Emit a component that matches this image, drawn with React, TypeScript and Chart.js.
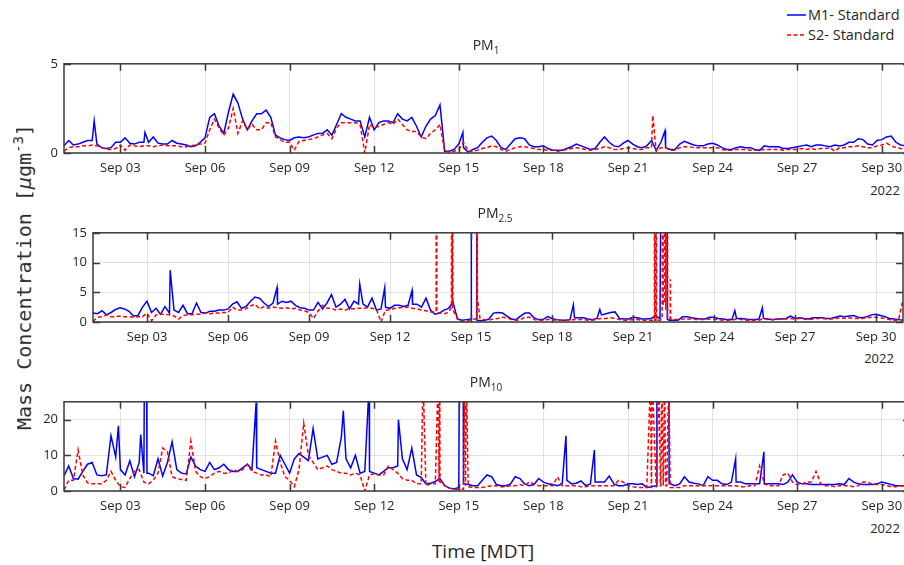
import React, { useEffect, useRef } from "react";
import { Chart, registerables } from "chart.js";

Chart.register(...registerables);

// ---------- axis categories (hours after Sep 01 00:00 MDT) ----------
const xTickHours = [48, 120, 192, 264, 336, 408, 480, 552, 624, 696];
const xTickLabels = ["Sep 03", "Sep 06", "Sep 09", "Sep 12", "Sep 15", "Sep 18", "Sep 21", "Sep 24", "Sep 27", "Sep 30"];
const sampleStepHours = 4; // base samples every 4 h, Sep 01 00:00 .. Oct 01 00:00
const xMaxHours = 720;

const pm1YTicks = [0, 5];
const pm25YTicks = [0, 5, 10, 15];
const pm10YTicks = [0, 10, 20];

// ---------- PM1 ----------
const pm1M1 = [
  0.4, 0.7, 0.45, 0.5, 0.6, 0.7,
  0.7, 0.5, 0.3, 0.25, 0.3, 0.6,
  0.6, 0.85, 0.55, 0.5, 0.6, 0.6,
  0.6, 0.9, 0.55, 0.5, 0.5, 0.7,
  0.55, 0.5, 0.45, 0.35, 0.4, 0.6,
  0.85, 2.0, 2.2, 1.5, 1.1, 2.3,
  3.3, 2.8, 1.9, 1.3, 1.8, 2.2,
  2.2, 2.4, 2.0, 1.0, 0.85, 0.75,
  0.7, 0.85, 0.9, 0.85, 0.9, 1.0,
  1.1, 1.1, 1.3, 1.0, 1.6, 2.2,
  2.0, 1.9, 1.8, 1.8, 0.9, 2.0,
  1.3, 1.7, 1.8, 1.8, 1.7, 2.2,
  1.9, 1.8, 2.0, 1.5, 0.9, 1.5,
  1.9, 2.1, 2.7, 0.1, 0.1, 0.2,
  0.5, 0.3, 0.05, 0.2, 0.3, 0.6,
  0.85, 0.95, 0.7, 0.3, 0.2, 0.5,
  0.8, 0.85, 0.8, 0.45, 0.35, 0.35,
  0.4, 0.25, 0.15, 0.15, 0.15, 0.25,
  0.35, 0.5, 0.4, 0.3, 0.2, 0.25,
  0.6, 0.9, 0.6, 0.4, 0.35, 0.55,
  0.7, 0.5, 0.35, 0.3, 0.4, 0.7,
  0.15, 0.6, 0.3, 0.2, 0.2, 0.5,
  0.65, 0.55, 0.45, 0.4, 0.4, 0.5,
  0.55, 0.45, 0.3, 0.2, 0.2, 0.3,
  0.35, 0.3, 0.3, 0.2, 0.15, 0.4,
  0.35, 0.35, 0.35, 0.25, 0.25, 0.3,
  0.35, 0.4, 0.45, 0.35, 0.45, 0.45,
  0.4, 0.35, 0.45, 0.4, 0.45, 0.6,
  0.6, 0.8, 0.75, 0.5, 0.45, 0.7,
  0.75, 0.9, 0.95, 0.6, 0.45, 0.4,
  0.4,
];
const pm1M1Peaks: [number, number][] = [[25.7, 1.8], [68.9, 1.15], [339.5, 1.15], [511.5, 1.25]];

const pm1S2 = [
  0.1, 0.3, 0.35, 0.35, 0.4, 0.4,
  0.45, 0.4, 0.3, 0.2, 0.2, 0.25,
  0.45, 0.15, 0.45, 0.4, 0.35, 0.4,
  0.4, 0.35, 0.4, 0.45, 0.4, 0.4,
  0.4, 0.35, 0.35, 0.4, 0.45, 0.5,
  0.55, 1.3, 1.9, 1.4, 1.0, 1.4,
  2.5, 1.1, 1.8, 1.3, 1.6, 1.3,
  1.3, 1.7, 1.7, 0.9, 0.75, 0.6,
  0.6, 0.15, 0.65, 0.7, 0.75, 0.8,
  0.9, 1.0, 1.1, 0.8, 1.4, 1.7,
  1.7, 1.7, 1.7, 1.6, 0.0, 1.6,
  1.4, 1.5, 1.6, 1.7, 1.6, 1.9,
  1.6, 1.3, 1.2, 1.2, 0.9, 0.8,
  1.1, 1.3, 1.6, 0.1, 0.05, 0.1,
  0.2, 0.6, 0.1, 0.1, 0.15, 0.25,
  0.3, 0.4, 0.35, 0.2, 0.1, 0.2,
  0.3, 0.35, 0.35, 0.3, 0.25, 0.2,
  0.2, 0.15, 0.15, 0.1, 0.15, 0.2,
  0.25, 0.3, 0.25, 0.2, 0.15, 0.2,
  0.25, 0.35, 0.3, 0.2, 0.2, 0.25,
  0.3, 0.25, 0.2, 0.2, 0.3, 0.3,
  0.1, 0.3, 0.3, 0.15, 0.15, 0.3,
  0.35, 0.35, 0.3, 0.3, 0.3, 0.3,
  0.3, 0.3, 0.2, 0.15, 0.15, 0.2,
  0.2, 0.2, 0.15, 0.15, 0.15, 0.2,
  0.2, 0.2, 0.2, 0.15, 0.2, 0.2,
  0.2, 0.25, 0.2, 0.25, 0.2, 0.25,
  0.25, 0.3, 0.1, 0.3, 0.3, 0.35,
  0.35, 0.4, 0.35, 0.3, 0.3, 0.4,
  0.45, 0.55, 0.4, 0.3, 0.25, 0.2,
  0.2,
];
const pm1S2Peaks: [number, number][] = [[501.1, 2.1]];

// ---------- PM2.5 ----------
const pm25M1 = [
  1.5, 1.4, 1.9, 1.2, 1.6, 2.1,
  2.4, 2.2, 1.8, 1.0, 1.1, 2.5,
  3.5, 1.6, 2.3, 1.3, 2.6, 1.5,
  2.0, 1.6, 2.8, 1.4, 1.4, 3.2,
  1.6, 1.5, 1.8, 1.8, 2.0, 2.0,
  2.2, 3.0, 3.4, 2.3, 2.6, 3.5,
  4.2, 4.0, 3.2, 2.6, 3.2, 3.0,
  3.5, 3.3, 3.5, 2.8, 2.4, 2.3,
  2.0, 2.0, 3.3, 2.2, 3.2, 4.6,
  2.5, 3.0, 3.8, 2.2, 3.5, 3.0,
  3.0, 2.5, 4.0, 2.0, 2.2, 2.5,
  2.3, 2.8, 2.8, 2.6, 2.8, 3.0,
  3.0, 2.5, 4.0, 2.0, 1.3, 1.5,
  2.0, 2.3, 3.3, 0.5, 0.3, 0.4,
  0.5, 60, 0.2, 0.3, 0.5, 1.5,
  1.6, 1.5, 1.0, 0.5, 0.4, 1.0,
  1.5, 1.5, 0.7, 0.4, 0.4, 0.9,
  0.6, 0.4, 0.3, 0.3, 0.4, 0.7,
  0.7, 0.7, 0.5, 0.4, 0.6, 1.2,
  1.4, 1.6, 1.7, 0.6, 0.5, 0.5,
  0.8, 0.7, 0.5, 0.5, 0.6, 1.0,
  0.6, 100, 0.3, 0.3, 0.3, 0.9,
  0.9, 0.7, 0.6, 0.5, 0.5, 0.8,
  0.8, 0.6, 0.5, 0.4, 0.4, 0.6,
  0.6, 0.5, 0.4, 0.4, 0.5, 0.6,
  0.5, 0.4, 0.5, 0.5, 0.6, 1.0,
  0.6, 0.7, 0.6, 0.5, 0.7, 0.7,
  0.7, 0.6, 0.6, 0.8, 1.0, 0.9,
  1.0, 1.1, 0.8, 0.7, 0.9, 1.2,
  1.3, 1.1, 0.9, 0.6, 0.5, 0.4,
  0.3,
];
const pm25M1Peaks: [number, number][] = [
  [68.6, 8.7], [163.6, 5.8], [237.1, 6.4], [259.3, 5.75], [283.6, 5.3],
  [336.3, 60], [340.8, 60], [341.2, 0.3],
  [427.0, 2.9], [450.5, 2.1],
  [507.5, 100], [510.2, 100], [510.5, 0.5],
  [570.5, 1.9], [595.0, 2.4],
];

const pm25S2 = [
  0.1, 0.8, 0.9, 1.2, 0.9, 0.9,
  1.0, 0.9, 0.9, 0.8, 0.9, 0.9,
  1.5, 0.2, 1.2, 1.3, 1.3, 1.2,
  1.0, 0.5, 1.1, 1.2, 1.2, 1.3,
  1.3, 1.5, 1.4, 1.5, 1.5, 1.6,
  1.6, 2.5, 2.0, 2.0, 2.2, 2.7,
  3.0, 2.2, 2.6, 2.3, 2.5, 2.4,
  2.3, 2.4, 2.2, 2.3, 2.0, 1.9,
  1.6, 0.6, 1.8, 2.8, 2.3, 2.3,
  2.0, 2.2, 2.0, 2.3, 2.2, 2.3,
  2.3, 2.4, 2.3, 2.1, 0.0, 2.0,
  2.0, 2.3, 2.4, 2.4, 2.5, 2.3,
  2.2, 2.0, 1.9, 1.7, 1.7, 1.5,
  1.4, 1.6, 2.0, 0.5, 0.1, 0.1,
  0.4, 0.5, 0.6, 0.4, 0.3, 0.5,
  0.6, 0.8, 0.7, 0.4, 0.3, 0.4,
  0.8, 0.8, 0.4, 0.3, 0.3, 0.4,
  0.4, 0.3, 0.3, 0.3, 0.3, 0.4,
  0.4, 0.4, 0.3, 0.3, 0.5, 0.6,
  0.6, 0.7, 0.6, 0.4, 0.3, 0.3,
  0.4, 0.4, 0.3, 0.2, 0.3, 0.3,
  0.3, 3.0, 0.5, 0.4, 0.4, 0.5,
  0.5, 0.5, 0.4, 0.4, 0.4, 0.5,
  0.5, 0.4, 0.3, 0.3, 0.3, 0.5,
  0.4, 0.3, 0.3, 0.3, 0.3, 0.6,
  0.4, 0.4, 0.4, 0.5, 0.5, 0.6,
  0.5, 0.6, 0.5, 0.4, 0.5, 0.6,
  0.6, 0.5, 0.5, 0.6, 0.7, 0.6,
  0.7, 0.6, 0.6, 0.6, 0.7, 0.8,
  0.8, 0.7, 0.6, 0.4, 0.3, 0.3,
  3.8,
];
const pm25S2Peaks: [number, number][] = [
  [305.0, 1.7], [305.3, 100], [305.6, 1.6],
  [318.6, 2.5], [318.9, 100], [319.3, 2.5], [319.6, 100], [319.9, 2.0],
  [341.0, 0.5], [341.3, 100], [341.7, 4.0],
  [499.0, 0.3], [499.2, 100], [499.5, 0.3], [500.4, 0.3], [500.6, 100], [500.9, 0.3],
  [505.8, 0.5], [506.1, 7.0], [506.4, 100], [506.8, 3.0], [508.6, 100], [509.2, 2.0],
  [510.4, 100], [510.8, 0.5], [513.0, 0.5], [513.2, 7.2], [513.5, 0.5],
];

// ---------- PM10 ----------
const pm10M1 = [
  4.2, 7.0, 3.5, 3.3, 5.5, 7.5,
  8.0, 4.5, 4.3, 4.5, 15.5, 9.5,
  6.0, 4.5, 8.5, 4.0, 8.0, 5.0,
  5.0, 4.3, 9.0, 4.2, 8.0, 13.8,
  6.0, 5.0, 4.8, 9.5, 7.0, 6.0,
  5.5, 8.0, 6.0, 6.5, 7.5, 6.0,
  5.5, 5.5, 6.5, 7.5, 6.0, 6.5,
  6.0, 5.5, 5.0, 5.0, 10.0, 7.5,
  5.0, 9.0, 10.5, 9.5, 8.5, 17.5,
  9.0, 9.5, 10.0, 7.5, 8.0, 15.0,
  9.0, 6.5, 10.0, 5.0, 5.5, 5.5,
  5.0, 4.5, 5.5, 6.5, 6.5, 7.0,
  9.0, 6.0, 12.0, 4.5, 3.8, 2.0,
  2.2, 2.7, 3.5, 1.5, 0.8, 0.6,
  1.0, 2.0, 1.8, 1.5, 1.5, 3.0,
  4.5, 4.0, 1.8, 1.5, 1.5, 2.0,
  4.0, 3.5, 2.0, 1.5, 1.8, 3.5,
  2.5, 2.0, 1.8, 1.5, 2.0, 3.0,
  2.0, 2.2, 2.8, 1.5, 2.0, 2.5,
  2.5, 2.5, 4.2, 2.0, 1.5, 1.5,
  2.0, 2.0, 1.8, 2.0, 1.0, 1.2,
  1.5, 60, 60, 2.0, 1.5, 2.0,
  4.0, 2.5, 2.2, 2.0, 1.5, 4.0,
  3.0, 3.0, 2.0, 1.8, 2.5, 2.5,
  2.5, 2.0, 2.0, 2.0, 2.0, 2.0,
  2.0, 2.0, 2.0, 1.8, 2.5, 4.5,
  2.5, 2.0, 2.0, 1.8, 1.8, 1.8,
  1.8, 1.8, 1.8, 2.0, 1.8, 3.5,
  2.5, 2.0, 1.8, 1.8, 1.8, 2.0,
  2.5, 2.2, 1.8, 1.5, 1.5, 1.5,
  1.5,
];
const pm10M1Peaks: [number, number][] = [
  [46.3, 18.3], [65.3, 15.8], [68.5, 40], [70.2, 40], [70.6, 5.0],
  [163.5, 24.8], [237.7, 22.5], [259.7, 30], [284.6, 20.0],
  [336.9, 60], [339.6, 60], [339.9, 2.0],
  [427.2, 15.5], [451.4, 11.5],
  [504.6, 60], [514.6, 60], [515.0, 2.0],
  [571.6, 9.0], [595.7, 11.0],
];

const pm10S2 = [
  0.3, 3.0, 3.0, 11.5, 4.5, 2.3,
  2.0, 2.0, 2.0, 3.0, 5.5, 3.0,
  1.2, 1.0, 3.5, 5.5, 6.0, 2.5,
  2.0, 3.0, 5.0, 12.0, 11.0, 4.0,
  3.5, 3.2, 3.0, 14.0, 5.5, 4.0,
  3.5, 4.0, 5.0, 5.5, 5.0, 5.0,
  6.0, 5.5, 6.0, 7.5, 5.5, 5.0,
  4.5, 4.5, 4.0, 14.0, 8.0, 4.0,
  3.0, 1.2, 6.0, 19.0, 10.0, 8.0,
  6.0, 6.5, 7.0, 6.0, 5.5, 5.0,
  5.0, 4.5, 5.0, 4.5, 0.0, 4.5,
  4.8, 4.5, 4.5, 7.0, 6.0, 5.0,
  3.5, 3.0, 3.0, 2.0, 2.0, 1.5,
  2.0, 2.0, 2.5, 1.5, 0.8, 0.5,
  0.5, 0.5, 1.2, 1.0, 1.0, 1.0,
  1.2, 1.5, 1.5, 1.2, 1.2, 1.5,
  1.5, 1.8, 1.5, 2.5, 2.0, 1.5,
  1.5, 1.5, 1.5, 4.0, 1.5, 1.5,
  1.5, 1.5, 1.2, 1.2, 1.5, 1.5,
  1.5, 1.5, 1.5, 1.5, 3.0, 2.5,
  1.5, 1.2, 1.0, 1.0, 1.0, 1.0,
  1.0, 1.5, 1.5, 1.0, 1.0, 1.0,
  1.5, 1.5, 1.5, 1.5, 1.5, 1.5,
  1.5, 1.5, 1.5, 1.5, 1.5, 1.5,
  1.2, 1.2, 1.5, 1.5, 7.0, 2.0,
  1.5, 1.5, 1.5, 4.5, 5.0, 2.5,
  1.8, 2.0, 2.5, 2.5, 5.5, 2.0,
  1.5, 1.5, 1.2, 1.5, 1.5, 1.5,
  1.2, 1.5, 2.5, 2.5, 1.8, 1.8,
  1.8, 1.5, 1.2, 1.2, 1.5, 1.5,
  1.5,
];
const pm10S2Peaks: [number, number][] = [
  [305.6, 32], [318.4, 32], [319.2, 2.5], [319.8, 32],
  [340.9, 32], [341.7, 1.5], [342.5, 32],
  [499.2, 32], [499.9, 1.0], [500.6, 32],
  [506.4, 32], [507.5, 1.5], [508.8, 32], [510.0, 1.5], [511.2, 32], [513.0, 1.5], [514.6, 32],
];

// ---------- helpers ----------
type Pt = { x: number; y: number };
function buildSeries(samples: number[], peaks: [number, number][]): Pt[] {
  const pts: Pt[] = samples.map((v, i) => ({ x: i * sampleStepHours, y: v }));
  peaks.forEach(([h, v]) => pts.push({ x: h, y: v }));
  pts.sort((a, b) => a.x - b.x);
  return pts;
}

const framePlugin = {
  id: "matlabFrame",
  afterDraw(chart: any) {
    const { ctx, chartArea: a, scales } = chart;
    const xs = scales.x;
    const ys = scales.y;
    ctx.save();
    ctx.strokeStyle = "#3a3a3a";
    ctx.lineWidth = 1.5;
    ctx.strokeRect(a.left, a.top, a.right - a.left, a.bottom - a.top);
    ctx.beginPath();
    const L = 7;
    xs.ticks.forEach((t: any) => {
      const x = Math.round(xs.getPixelForValue(t.value)) + 0.5;
      ctx.moveTo(x, a.bottom);
      ctx.lineTo(x, a.bottom - L);
      ctx.moveTo(x, a.top);
      ctx.lineTo(x, a.top + L);
    });
    ys.ticks.forEach((t: any) => {
      const y = Math.round(ys.getPixelForValue(t.value)) + 0.5;
      ctx.moveTo(a.left, y);
      ctx.lineTo(a.left + L, y);
      ctx.moveTo(a.right, y);
      ctx.lineTo(a.right - L, y);
    });
    ctx.stroke();
    ctx.restore();
  },
};

const tickFont = { family: "'Open Sans', sans-serif", size: 13 };
const textColor = "#262626";
const gridColor = "rgba(0,0,0,0.11)";

function makeChart(canvas: HTMLCanvasElement, m1: Pt[], s2: Pt[], yMax: number, yTicks: number[], padRight: number) {
  return new Chart(canvas, {
    type: "line",
    data: {
      datasets: [
        { label: "M1- Standard", data: m1, borderColor: "#0000ff", borderWidth: 1.5, pointRadius: 0, tension: 0, order: 2 },
        { label: "S2- Standard", data: s2, borderColor: "#ff0000", borderWidth: 1.5, borderDash: [4, 2.5], pointRadius: 0, tension: 0, order: 1 },
      ],
    },
    options: {
      animation: false,
      responsive: false,
      devicePixelRatio: 1,
      layout: { padding: { top: 12, right: padRight, left: 0, bottom: 0 } },
      plugins: { legend: { display: false }, tooltip: { enabled: false }, title: { display: false } },
      scales: {
        x: {
          type: "linear",
          min: 0,
          max: xMaxHours,
          afterBuildTicks: (s: any) => { s.ticks = xTickHours.map((v) => ({ value: v })); },
          afterFit: (s: any) => { s.height = 25; },
          ticks: {
            autoSkip: false,
            maxRotation: 0,
            minRotation: 0,
            padding: 7,
            color: textColor,
            font: tickFont,
            callback: (_v: any, i: number) => xTickLabels[i],
          },
          grid: { color: gridColor, drawTicks: false, lineWidth: 1 },
          border: { display: false },
        },
        y: {
          type: "linear",
          min: 0,
          max: yMax,
          afterBuildTicks: (s: any) => { s.ticks = yTicks.map((v) => ({ value: v })); },
          afterFit: (s: any) => { s.width = 40; },
          ticks: { padding: 6, color: textColor, font: tickFont, callback: (v: any) => String(v) },
          grid: { color: gridColor, drawTicks: false, lineWidth: 1 },
          border: { display: false },
        },
      },
    } as any,
    plugins: [framePlugin],
  });
}

const abs = (left: number, top: number, extra: React.CSSProperties = {}): React.CSSProperties => ({
  position: "absolute",
  left,
  top,
  whiteSpace: "nowrap",
  ...extra,
});

export default function App() {
  const c1 = useRef<HTMLCanvasElement>(null);
  const c2 = useRef<HTMLCanvasElement>(null);
  const c3 = useRef<HTMLCanvasElement>(null);

  useEffect(() => {
    const charts = [
      makeChart(c1.current!, buildSeries(pm1M1, pm1M1Peaks), buildSeries(pm1S2, pm1S2Peaks), 5, pm1YTicks, 0),
      makeChart(c2.current!, buildSeries(pm25M1, pm25M1Peaks), buildSeries(pm25S2, pm25S2Peaks), 15, pm25YTicks, 1),
      makeChart(c3.current!, buildSeries(pm10M1, pm10M1Peaks), buildSeries(pm10S2, pm10S2Peaks), 25, pm10YTicks, 0),
    ];
    return () => charts.forEach((c) => c.destroy());
  }, []);

  const titleStyle = (cx: number, top: number) =>
    abs(cx, top, { transform: "translateX(-50%)", fontSize: 14, lineHeight: "19px" });
  const subStyle: React.CSSProperties = { fontSize: 10, verticalAlign: "-4px", lineHeight: 0 };
  const yearStyle = (cx: number, top: number) =>
    abs(cx, top, { transform: "translateX(-50%)", fontSize: 13, lineHeight: "16px" });

  return (
    <div
      style={{
        position: "fixed",
        left: 0,
        top: 0,
        width: 904,
        height: 565,
        overflow: "hidden",
        background: "#ffffff",
        color: textColor,
        fontFamily: "'Open Sans', sans-serif",
      }}
    >
      <canvas ref={c1} width={886} height={128} style={{ position: "absolute", left: 24, top: 50 }} />
      <canvas ref={c2} width={851} height={128} style={{ position: "absolute", left: 53, top: 219 }} />
      <canvas ref={c3} width={886} height={128} style={{ position: "absolute", left: 24, top: 388 }} />

      <div style={titleStyle(486, 35)}>PM<span style={subStyle}>1</span></div>
      <div style={titleStyle(495, 203)}>PM<span style={subStyle}>2.5</span></div>
      <div style={titleStyle(486, 372)}>PM<span style={subStyle}>10</span></div>

      <div style={yearStyle(885, 182)}>2022</div>
      <div style={yearStyle(879, 350)}>2022</div>
      <div style={yearStyle(885, 520)}>2022</div>

      {/* legend */}
      <svg width={22} height={40} style={{ position: "absolute", left: 786, top: 5 }}>
        <line x1={1} y1={10} x2={20} y2={10} stroke="#0000ff" strokeWidth={1.5} />
        <line x1={1} y1={30} x2={20} y2={30} stroke="#ff0000" strokeWidth={1.5} strokeDasharray="4 2.5" />
      </svg>
      <div style={abs(808, 5, { fontSize: 14.5, lineHeight: "20px" })}>M1- Standard</div>
      <div style={abs(808, 25, { fontSize: 14.5, lineHeight: "20px" })}>S2- Standard</div>

      <div
        style={abs(21, 277, {
          transform: "translate(-50%, -50%) rotate(-90deg)",
          fontFamily: "'DejaVu Sans Mono', monospace",
          fontSize: 20,
          lineHeight: "24px",
        })}
      >
        Mass Concentration [<i>μ</i>gm<sup style={{ fontSize: 14 }}>-3</sup>]
      </div>

      <div style={abs(483, 538, { transform: "translateX(-50%)", fontSize: 19, lineHeight: "26px" })}>Time [MDT]</div>
    </div>
  );
}
